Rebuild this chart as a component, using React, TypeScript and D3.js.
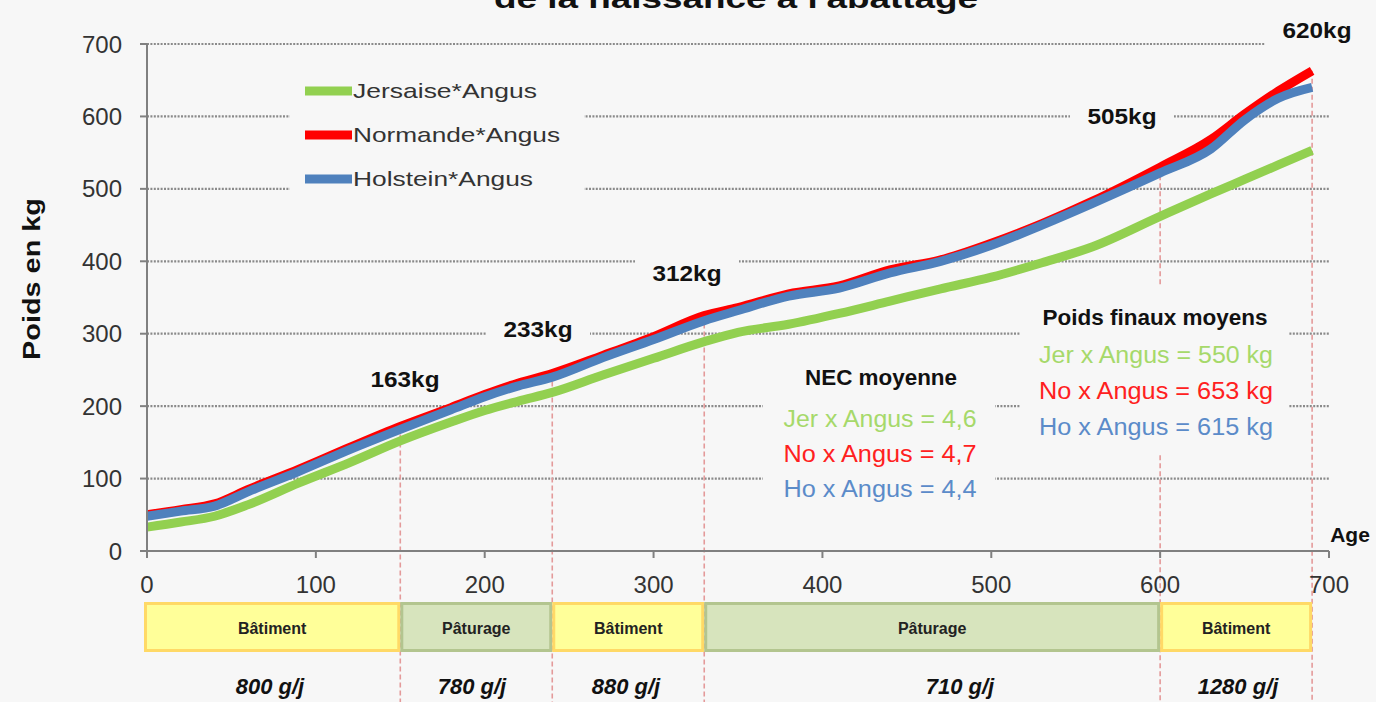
import React from 'react';
import * as d3 from 'd3';

// ---- data ----
const ages = [0, 20, 40, 60, 90, 120, 150, 180, 200, 220, 240, 270, 300, 330, 350, 380, 410, 440, 470, 500, 530, 560, 600, 630, 650, 670, 690];
const jersaise = [33, 40, 48, 64, 94, 122, 152, 178, 194, 207, 219, 243, 266, 289, 302, 313, 328, 345, 362, 378, 398, 420, 462, 493, 513, 533, 553];
const normande = [50, 57, 65, 85, 113, 143, 172, 198, 216, 232, 245, 270, 296, 325, 336, 355, 366, 388, 402, 425, 452, 483, 530, 568, 603, 635, 663];
const holstein = [48, 55, 62, 82, 110, 140, 168, 195, 213, 228, 240, 267, 292, 318, 332, 352, 363, 384, 400, 422, 450, 480, 522, 555, 595, 625, 640];

const seriesNames = ['Jersaise*Angus', 'Normande*Angus', 'Holstein*Angus'];
const seriesColors = ['#92d050', '#ff0000', '#4f81bd'];
const textColors = ['#a6d96a', '#ff2020', '#5b8bc9'];

const yTicks = [0, 100, 200, 300, 400, 500, 600, 700];
const xTicks = [0, 100, 200, 300, 400, 500, 600, 700];

const stageStart = [0, 150, 240, 330, 600];
const stageEnd = [150, 240, 330, 600, 690];
const stageNames = ['Bâtiment', 'Pâturage', 'Bâtiment', 'Pâturage', 'Bâtiment'];
const stageGain = ['800 g/j', '780 g/j', '880 g/j', '710 g/j', '1280 g/j'];
const stageKg = ['163kg', '233kg', '312kg', '505kg', '620kg'];

const necLines = ['Jer x Angus = 4,6', 'No x Angus = 4,7', 'Ho x Angus = 4,4'];
const finalLines = ['Jer x Angus = 550 kg', 'No x Angus = 653 kg', 'Ho x Angus = 615 kg'];

// ---- layout ----
const W = 1376, H = 702;
const bg = '#f7f7f7';
const narrow = "'Liberation Sans Narrow', 'Liberation Sans', Arial, sans-serif";
const sans = "'Liberation Sans', Arial, sans-serif";
// label anchor (centre x, baseline y) for the kg annotations
const kgPos = [[405, 387], [538, 337], [687, 281], [1122, 124], [1317, 38]];
const gainX = [270, 472, 626, 960, 1238];

export default function App() {
  const x = d3.scaleLinear().domain([0, 700]).range([147, 1329]);
  const y = d3.scaleLinear().domain([0, 700]).range([551, 44]);
  const all = [jersaise, normande, holstein];

  const line = d3.line<number>()
    .x((d, i) => x(ages[i]))
    .y(d => y(d))
    .curve(d3.curveMonotoneX);

  const topAt = (age: number) => {
    const i = ages.indexOf(age);
    return Math.max(jersaise[i], normande[i], holstein[i]);
  };

  return (
    <svg width={W} height={H} style={{ position: 'absolute', left: 0, top: 0, background: bg }}>
      <rect width={W} height={H} fill={bg} />

      {/* title, cut at the top edge as in the source */}
      <text x={736} y={8} textAnchor="middle" fontFamily={sans} fontWeight="bold" fontSize={28}
        textLength={484} lengthAdjust="spacingAndGlyphs" fill="#111">de la naissance à l'abattage</text>

      {/* grid */}
      {yTicks.filter(t => t > 0).map(t => (
        <line key={t} x1={x(0)} x2={x(700)} y1={y(t)} y2={y(t)} stroke="#8a8a8a" strokeWidth={2.2} strokeDasharray="2 1.4" />
      ))}

      {/* dashed stage separators */}
      {stageEnd.map(a => (
        <line key={a} x1={x(a)} x2={x(a)} y1={y(topAt(a))} y2={H} stroke="#e49a9a" strokeWidth={1.6} strokeDasharray="5 3" />
      ))}

      {/* opaque boxes hiding grid */}
      <rect x={290} y={60} width={294} height={145} fill={bg} />
      <rect x={763} y={355} width={232} height={150} fill={bg} />
      <rect x={1020} y={287} width={268} height={166} fill={bg} />
      {kgPos.map(([cx, by], i) => (
        <rect key={i} x={cx - 52} y={by - 28} width={104} height={40} fill={bg} />
      ))}

      {/* series */}
      {all.map((s, k) => (
        <path key={k} d={line(s) || ''} fill="none" stroke={seriesColors[k]} strokeWidth={9} strokeLinejoin="round" />
      ))}

      {/* axes */}
      <line x1={x(0)} x2={x(0)} y1={y(700)} y2={y(0)} stroke="#808080" strokeWidth={2} />
      <line x1={x(0) - 7} x2={x(700)} y1={y(0)} y2={y(0)} stroke="#808080" strokeWidth={2} />
      {yTicks.map(t => (
        <g key={t}>
          <line x1={x(0) - 7} x2={x(0)} y1={y(t)} y2={y(t)} stroke="#808080" strokeWidth={2} />
          <text x={122} y={y(t) + 8.5} textAnchor="end" fontFamily={sans} fontSize={24} fill="#333">{t}</text>
        </g>
      ))}
      {xTicks.map(t => (
        <g key={t}>
          <line x1={x(t)} x2={x(t)} y1={y(0)} y2={y(0) + 7} stroke="#808080" strokeWidth={2} />
          <text x={x(t)} y={593} textAnchor="middle" fontFamily={sans} fontSize={24} fill="#333">{t}</text>
        </g>
      ))}
      <text transform={`translate(40,279) rotate(-90)`} textAnchor="middle" fontFamily={sans} fontWeight="bold" fontSize={23} fill="#111"
        textLength={162} lengthAdjust="spacingAndGlyphs">Poids en kg</text>
      <text x={1350} y={542} textAnchor="middle" fontFamily={sans} fontWeight="bold" fontSize={21} fill="#111">Age</text>

      {/* legend */}
      {seriesNames.map((n, k) => (
        <g key={n}>
          <line x1={305} x2={352} y1={91 + k * 44} y2={91 + k * 44} stroke={seriesColors[k]} strokeWidth={9} />
          <text x={353} y={98 + k * 44} fontFamily={sans} fontSize={21} fill="#333"
            textLength={[184, 207, 180][k]} lengthAdjust="spacingAndGlyphs">{n}</text>
        </g>
      ))}

      {/* kg annotations */}
      {stageKg.map((t, i) => (
        <text key={t} x={kgPos[i][0]} y={kgPos[i][1]} textAnchor="middle" fontFamily={narrow} fontWeight="bold" fontSize={22}
          fill="#111" textLength={69} lengthAdjust="spacingAndGlyphs">{t}</text>
      ))}

      {/* NEC box */}
      <text x={881} y={385} textAnchor="middle" fontFamily={narrow} fontWeight="bold" fontSize={22} fill="#111"
        textLength={152} lengthAdjust="spacingAndGlyphs">NEC moyenne</text>
      {necLines.map((t, k) => (
        <text key={t} x={880} y={427 + k * 35} textAnchor="middle" fontFamily={narrow} fontSize={23} fill={textColors[k]}
          textLength={193} lengthAdjust="spacingAndGlyphs">{t}</text>
      ))}

      {/* final weights box */}
      <text x={1155} y={325} textAnchor="middle" fontFamily={narrow} fontWeight="bold" fontSize={22} fill="#111"
        textLength={225} lengthAdjust="spacingAndGlyphs">Poids finaux moyens</text>
      {finalLines.map((t, k) => (
        <text key={t} x={1156} y={363 + k * 36} textAnchor="middle" fontFamily={narrow} fontSize={23} fill={textColors[k]}
          textLength={234} lengthAdjust="spacingAndGlyphs">{t}</text>
      ))}

      {/* stage bands */}
      {stageNames.map((n, i) => {
        const bat = n === 'Bâtiment';
        const x0 = i === 0 ? x(stageStart[i]) - 3 : x(stageStart[i]);
        const x1 = x(stageEnd[i]);
        return (
          <g key={i}>
            <rect x={x0 + 1.5} y={603.5} width={x1 - x0 - 3} height={47} fill={bat ? '#ffff99' : '#d7e4bd'}
              stroke={bat ? '#ffd966' : '#b3c58f'} strokeWidth={3} />
            <text x={(x0 + x1) / 2} y={634} textAnchor="middle" fontFamily={sans} fontWeight="bold" fontSize={16} fill="#222">{n}</text>
            <text x={gainX[i]} y={694} textAnchor="middle" fontFamily={sans} fontWeight="bold" fontStyle="italic" fontSize={22} fill="#111">{stageGain[i]}</text>
          </g>
        );
      })}
    </svg>
  );
}
